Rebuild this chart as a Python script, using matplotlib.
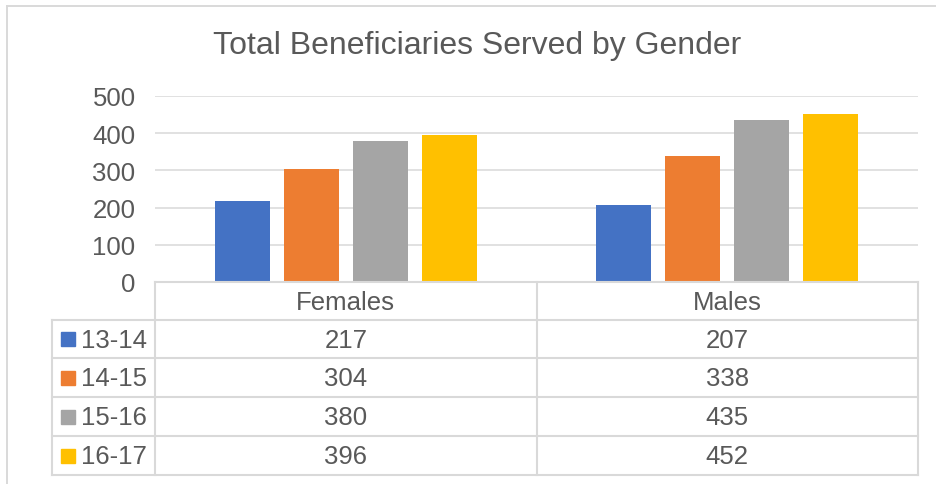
import matplotlib
matplotlib.use('Agg')
import matplotlib.pyplot as plt
import numpy as np

plt.rcParams['font.family'] = ['Liberation Sans', 'DejaVu Sans']

categories = ['Females', 'Males']
series = ['13-14', '14-15', '15-16', '16-17']
values = [[217, 207],
          [304, 338],
          [380, 435],
          [396, 452]]
colors = ['#4472C4', '#ED7D31', '#A5A5A5', '#FFC000']
yticks = [0, 100, 200, 300, 400, 500]

W, H = 936, 485
txt = '#595959'
grid = '#D9D9D9'

fig = plt.figure(figsize=(W / 100, H / 100), dpi=100)

# plot area in pixels
x0, x1 = 155, 918
ytop, ybot = 97, 283
ax = fig.add_axes([x0 / W, 1 - ybot / H, (x1 - x0) / W, (ybot - ytop) / H])
x = np.arange(len(categories))
bw = 0.144
step = 0.181
for i, s in enumerate(series):
    ax.bar(x + (i - 1.5) * step, values[i], bw, color=colors[i], zorder=3)
ax.set_xlim(-0.5, len(categories) - 0.5)
ax.set_ylim(0, 500)
ax.set_yticks(yticks)
ax.set_yticklabels([str(t) for t in yticks], fontsize=18.5, color=txt)
ax.tick_params(axis='y', length=0, pad=14)
ax.set_xticks([])
ax.grid(axis='y', color=grid, lw=1.1, zorder=0)
for sp in ax.spines.values():
    sp.set_visible(False)

# overlay in pixel coords for frame and data table
ov = fig.add_axes([0, 0, 1, 1], zorder=5)
ov.set_xlim(0, W)
ov.set_ylim(H, 0)
ov.axis('off')
ov.patch.set_alpha(0)

# chart border (cropped on right/bottom)
ov.plot([7, W], [7, 7], color=grid, lw=1.4)
ov.plot([7, 7], [7, H], color=grid, lw=1.4)

ov.text(477, 46, 'Total Beneficiaries Served by Gender', fontsize=23,
        color=txt, ha='center', va='center')

# data table
lw = 1.5
xl = 52
rows = [283, 321, 359, 398, 437, 476]
colw = (x1 - x0) / len(categories)
ov.plot([x0, x1], [rows[0], rows[0]], color=grid, lw=lw)
for r in rows[1:]:
    ov.plot([xl, x1], [r, r], color=grid, lw=lw)
ov.plot([xl, xl], [rows[1], rows[-1]], color=grid, lw=lw)
for k in range(len(categories) + 1):
    xv = x0 + k * colw
    ov.plot([xv, xv], [rows[0], rows[-1]], color=grid, lw=lw)

for j, c in enumerate(categories):
    xc = x0 + (j + 0.5) * colw
    ov.text(xc, (rows[0] + rows[1]) / 2 + 1, c, fontsize=18.5, color=txt,
            ha='center', va='center')
    for i in range(len(series)):
        ov.text(xc, (rows[i + 1] + rows[i + 2]) / 2 + 1, str(values[i][j]),
                fontsize=18.5, color=txt, ha='center', va='center')

for i, s in enumerate(series):
    yc = (rows[i + 1] + rows[i + 2]) / 2
    ov.add_patch(plt.Rectangle((61, yc - 7), 14, 14, color=colors[i]))
    ov.text(81, yc + 1, s, fontsize=18.5, color=txt, ha='left', va='center')

fig.savefig('out.png', dpi=100, facecolor='white')
